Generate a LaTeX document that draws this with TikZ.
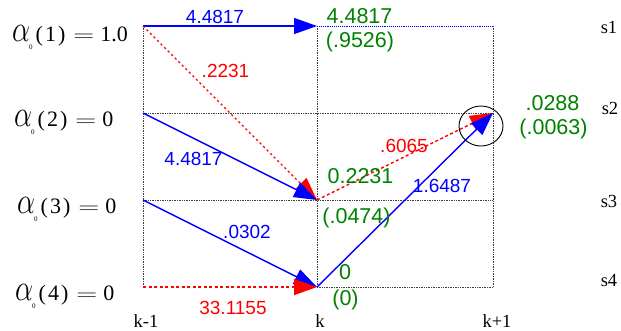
\documentclass[tikz,border=0pt]{standalone}
\usepackage{graphicx}
\usepackage{fontspec}
\setmainfont{Liberation Serif}
\newfontfamily\arialf{Liberation Sans}
\usetikzlibrary{arrows.meta,positioning}

\definecolor{tgreen}{RGB}{0,130,0}
\tikzset{
  grid/.style={densely dotted,line width=0.7pt,black!75},
  flow/.style={line width=1.4pt,-{Triangle[length=23pt,width=16pt]}},
  bflow/.style={flow,blue},
  rflow/.style={flow,red,dash pattern=on 3pt off 2.5pt},
  val/.style={font=\arialf\fontsize{19}{21}\selectfont,inner sep=0pt},
  fwd/.style={font=\arialf\fontsize{21.5}{24}\selectfont,inner sep=0pt,tgreen},
  tick/.style={font=\fontsize{18.5}{20}\selectfont,inner sep=0pt},
  alab/.style={font=\fontsize{22}{26}\selectfont,inner sep=0pt,anchor=base west}
}
\newcommand{\initval}[2]{\scalebox{1.15}[1.5]{\fontsize{24}{24}\selectfont$\alpha$}%
  \hspace{-1pt}\raisebox{-8pt}{\fontsize{7}{7}\selectfont 0}\hspace{3pt}(\kern2pt#1\kern2pt)%
  \hspace{8pt}\scalebox{1.4}[1]{$=$}\hspace{6pt}#2}

\begin{document}
\begin{tikzpicture}[x=1pt,y=-1pt]
  \useasboundingbox (0,0) rectangle (621,330);
  % trellis points
  \coordinate (a1) at (143,26);  \coordinate (b1) at (317,26);  \coordinate (c1) at (493,26);
  \coordinate (a2) at (143,113); \coordinate (b2) at (317,113); \coordinate (c2) at (493,113);
  \coordinate (a3) at (143,200); \coordinate (b3) at (317,200); \coordinate (c3) at (493,200);
  \coordinate (a4) at (143,287); \coordinate (b4) at (317,287); \coordinate (c4) at (493,287);

  % grid
  \draw[grid] (a1) -- (a4);
  \draw[grid] (b1) -- (b4);
  \draw[grid] (c1) -- (c4);
  \draw[grid] (a2) -- (c2);
  \draw[grid] (a3) -- (c3);
  \draw[grid] (b4) -- (c4);
  \draw[densely dotted,line width=0.9pt,blue] (b1) -- (c1);

  % transitions
  \draw[bflow] (a1) -- (b1);
  \draw[rflow,dash pattern=on 2.2pt off 2.8pt] (a1) -- (b3);
  \draw[bflow] (a2) -- (b3);
  \draw[bflow] (a3) -- (b4);
  \draw[rflow] (a4) -- (b4);
  \draw[rflow] (b3) -- (c2);
  \draw[bflow] (b4) -- (c2);
  \draw[line width=0.9pt] (481,126) ellipse (22 and 20);

  % transition weights
  \node[val,blue] (w11) at (215,17) {4.4817};
  \node[val,red] (w13) at (225.5,71) {.2231};
  \node[val,blue] (w23) at (193.5,159) {4.4817};
  \node[val,blue] (w34) at (247,232) {.0302};
  \node[val,red] (w44) at (233,307.5) {33.1155};
  \node[val,red] (w32) at (404,145.5) {.6065};
  \node[val,blue] (w42) at (442,186) {1.6487};

  % forward values
  \node[fwd] (f1) at (359.5,16) {4.4817};
  \node[fwd] (g1) at (360,42) {(.9526)};
  \node[fwd] (f2) at (552.5,103.5) {.0288};
  \node[fwd] (g2) at (553.5,129) {(.0063)};
  \node[fwd] (f3) at (360.5,176.5) {0.2231};
  \node[fwd] (g3) at (356.5,217.5) {(.0474)};
  \node[fwd] (f4) at (345,272.5) {0};
  \node[fwd] (g4) at (345.5,300) {(0)};

  % initial values
  \node[alab] (i1) at (12,41) {\initval{1}{1.0}};
  \node[alab] (i2) at (14,126) {\initval{2}{0}};
  \node[alab] (i3) at (17,213) {\initval{3}{0}};
  \node[alab] (i4) at (15,300) {\initval{4}{0}};

  % states and times
  \node[tick] (s1) at (609,27.5) {s1};
  \node[tick] (s2) at (610,108) {s2};
  \node[tick] (s3) at (609,201.5) {s3};
  \node[tick] (s4) at (609,280) {s4};
  \node[tick] (t0) at (146,321) {k-1};
  \node[tick] (t1) at (320,321) {k};
  \node[tick] (t2) at (497,321) {k+1};
\end{tikzpicture}
\end{document}
